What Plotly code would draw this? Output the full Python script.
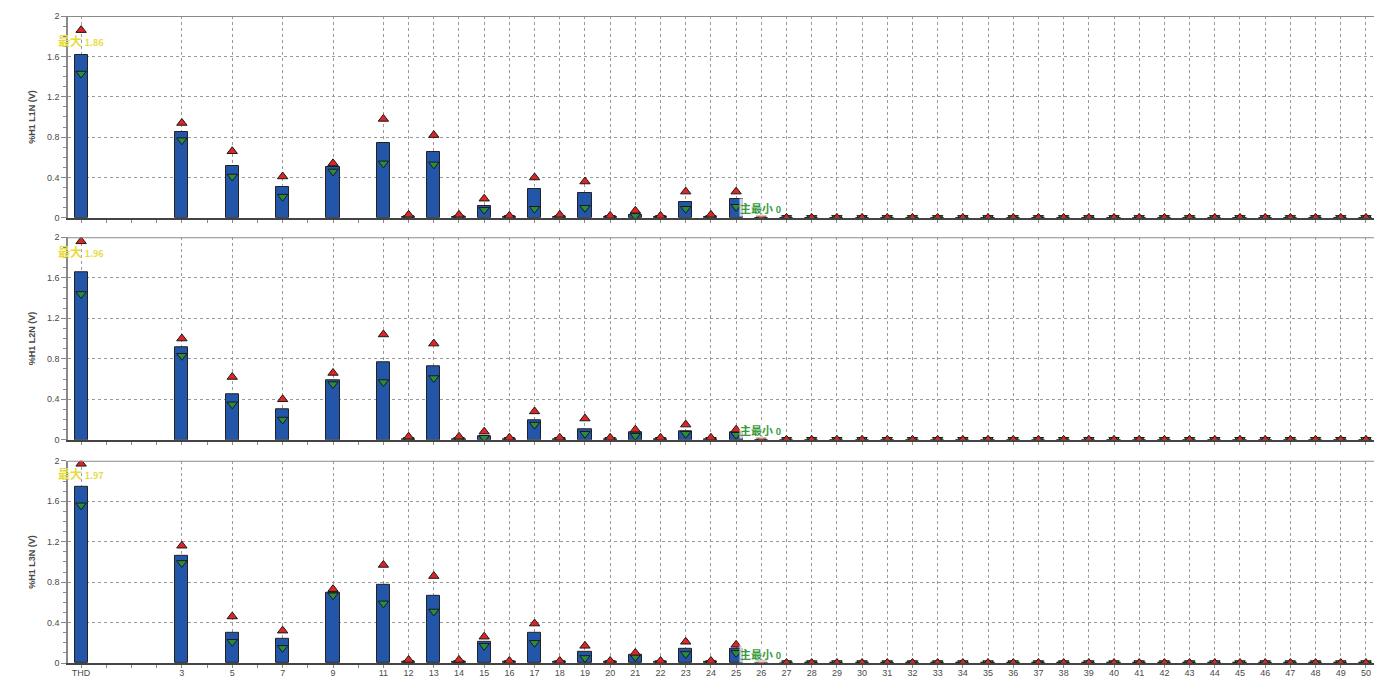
import plotly.graph_objects as go

# ---------------- data ----------------
harmonics = ["THD", 3, 5, 7, 9] + list(range(11, 51))
tick_labels = ["THD", "3", "5", "7", "9"] + [str(h) for h in range(11, 51)]
zeros25 = [0.0] * 25  # harmonics 26..50

l1n_avg = [1.61, 0.85, 0.51, 0.31, 0.50, 0.74, 0.01, 0.65, 0.01, 0.12, 0.01, 0.29, 0.01, 0.25, 0.01, 0.03, 0.01, 0.16, 0.01, 0.19] + zeros25
l1n_max = [1.86, 0.94, 0.66, 0.41, 0.54, 0.98, 0.03, 0.82, 0.03, 0.19, 0.02, 0.40, 0.03, 0.36, 0.02, 0.07, 0.02, 0.26, 0.03, 0.26] + zeros25
l1n_min = [1.43, 0.77, 0.41, 0.21, 0.46, 0.54, 0.00, 0.53, 0.00, 0.08, 0.00, 0.09, 0.00, 0.10, 0.00, 0.02, 0.00, 0.09, 0.00, 0.11] + zeros25

l2n_avg = [1.65, 0.91, 0.45, 0.30, 0.59, 0.77, 0.01, 0.73, 0.01, 0.03, 0.01, 0.19, 0.01, 0.10, 0.01, 0.07, 0.01, 0.08, 0.01, 0.07] + zeros25
l2n_max = [1.96, 1.00, 0.62, 0.40, 0.66, 1.04, 0.03, 0.95, 0.03, 0.08, 0.02, 0.28, 0.02, 0.21, 0.02, 0.10, 0.02, 0.15, 0.02, 0.10] + zeros25
l2n_min = [1.44, 0.83, 0.35, 0.20, 0.55, 0.57, 0.00, 0.61, 0.00, 0.02, 0.00, 0.15, 0.00, 0.06, 0.00, 0.04, 0.00, 0.06, 0.00, 0.05] + zeros25

l3n_avg = [1.74, 1.06, 0.30, 0.24, 0.69, 0.77, 0.01, 0.66, 0.01, 0.21, 0.01, 0.30, 0.01, 0.115, 0.01, 0.08, 0.01, 0.14, 0.01, 0.14] + zeros25
l3n_max = [1.97, 1.16, 0.46, 0.32, 0.73, 0.97, 0.03, 0.86, 0.03, 0.26, 0.02, 0.39, 0.02, 0.17, 0.02, 0.10, 0.02, 0.21, 0.02, 0.18] + zeros25
l3n_min = [1.56, 0.99, 0.21, 0.15, 0.67, 0.59, 0.00, 0.51, 0.00, 0.17, 0.00, 0.20, 0.00, 0.05, 0.00, 0.06, 0.00, 0.09, 0.00, 0.10] + zeros25

panel_titles = ["%H1 L1N (V)", "%H1 L2N (V)", "%H1 L3N (V)"]
y_ticks = [0, 0.4, 0.8, 1.2, 1.6, 2]
y_tick_text = ["0", "0.4", "0.8", "1.2", "1.6", "2"]

# ---------------- figure ----------------
# THD sits four harmonic slots left of H3 (position -1)
xpos = [-1 if h == "THD" else h for h in harmonics]

panels = [
    (l1n_avg, l1n_max, l1n_min),
    (l2n_avg, l2n_max, l2n_min),
    (l3n_avg, l3n_max, l3n_min),
]
domains = [[0.688, 1.0], [0.345, 0.658], [0.0, 0.3125]]

BAR = "#2356a8"
RED = "#e02424"
GREEN = "#2a8c3c"
GRID = "#9a9a9a"
TXT = "#4a4a4a"
FONT = "Liberation Sans, Arial, sans-serif"
DASH = "3px,3px"

fig = go.Figure()
for i, (avg, mx, mn) in enumerate(panels):
    ax = "" if i == 0 else str(i + 1)
    fig.add_trace(go.Bar(
        x=xpos, y=avg, width=0.52, xaxis="x" + ax, yaxis="y" + ax,
        marker=dict(color=BAR, line=dict(color="#222222", width=1)),
        showlegend=False, hoverinfo="x+y"))
    fig.add_trace(go.Scatter(
        x=xpos, y=mn, mode="markers", xaxis="x" + ax, yaxis="y" + ax,
        marker=dict(symbol="triangle-down", size=9, color=GREEN,
                    line=dict(color="#1a1a1a", width=1)),
        showlegend=False))
    fig.add_trace(go.Scatter(
        x=xpos, y=mx, mode="markers", xaxis="x" + ax, yaxis="y" + ax,
        marker=dict(symbol="triangle-up", size=9, color=RED,
                    line=dict(color="#1a1a1a", width=1)),
        showlegend=False))

    xa = dict(
        range=[-1.52, 50.32], domain=[0, 1], anchor="y" + ax,
        tickmode="array", tickvals=xpos, ticktext=tick_labels,
        showticklabels=(i == 2), ticks="",
        tickfont=dict(family=FONT, size=9, color=TXT),
        showgrid=True, gridcolor=GRID, griddash=DASH, gridwidth=1,
        showline=True, linecolor="#444444", linewidth=1.5,
        zeroline=False, fixedrange=True,
        minor=dict(tickmode="linear", tick0=0, dtick=1, ticks="outside",
                   ticklen=3, tickcolor="#888", showgrid=False),
    )
    ya = dict(
        range=[0, 2], domain=domains[i], anchor="x" + ax,
        tickmode="array", tickvals=y_ticks, ticktext=y_tick_text,
        ticks="outside", ticklen=5, tickcolor="#888",
        tickfont=dict(family=FONT, size=9, color=TXT),
        showgrid=True, gridcolor=GRID, griddash=DASH, gridwidth=1,
        showline=True, linecolor="#888888", linewidth=1.5,
        zeroline=False, fixedrange=True,
        title=dict(text="<b>" + panel_titles[i] + "</b>",
                   font=dict(family=FONT, size=9, color=TXT), standoff=10),
        minor=dict(tickmode="linear", tick0=0, dtick=0.1, ticks="outside",
                   ticklen=3, tickcolor="#888", showgrid=False),
    )
    fig.layout["xaxis" + ax] = xa
    fig.layout["yaxis" + ax] = ya

    # top border of panel
    fig.add_shape(type="line", xref="x" + ax + " domain", yref="y" + ax,
                  x0=0, x1=1, y0=2, y1=2,
                  line=dict(color="#8a8a8a", width=2))

    # max label
    fig.add_annotation(
        xref="x" + ax, yref="y" + ax, x=xpos[0], y=mx[0], yshift=-10,
        text="<b><span style='font-size:12px'>最大</span> "
             "<span style='font-size:9px'>%.2f</span></b>" % mx[0],
        showarrow=False, xanchor="center", yanchor="middle",
        font=dict(family="Noto Sans CJK SC, " + FONT, color="#e6dc3e"))
    # min label
    fig.add_annotation(
        xref="x" + ax, yref="y" + ax, x=25.1, y=0, yshift=10,
        text="<b><span style='font-size:11px'>主最小</span> "
             "<span style='font-size:9px'>%g</span></b>" % min(mn),
        showarrow=False, xanchor="left", yanchor="middle",
        bgcolor="rgba(255,255,255,0.75)", borderpad=0,
        font=dict(family="Noto Sans CJK SC, " + FONT, color="#3a9a3e"))

fig.update_layout(
    width=1374, height=679,
    margin=dict(l=68, r=0, t=16, b=16, autoexpand=False),
    paper_bgcolor="white", plot_bgcolor="white",
    bargap=0, showlegend=False,
)

# remove the default 8px page margin and scrollbars so the figure fills the window
fig.write_html(
    "out.html",
    config={"displayModeBar": False},
    post_script="document.body.style.margin='0';"
                "document.body.style.overflow='hidden';",
)
